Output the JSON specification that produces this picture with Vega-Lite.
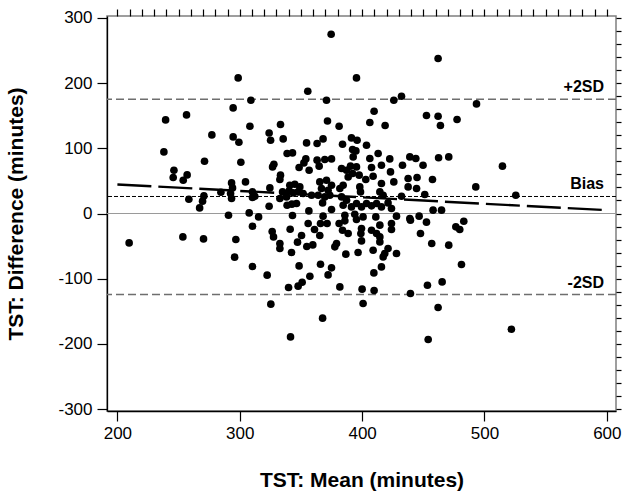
{
 "$schema": "https://vega.github.io/schema/vega-lite/v6.json",
 "width": 509, "height": 395,
 "autosize": {"type": "none"},
 "padding": {"left": 107, "top": 16, "right": 9, "bottom": 86},
 "background": "white",
 "config": {"view": {"stroke": "#7f7f7f", "strokeWidth": 1.5}, "axis": {"grid": false}, "font": "Liberation Sans"},
 "datasets": {
  "pts": [
   {"mean":239.4,"diff":143.6},{"mean":256.5,"diff":151.3},{"mean":277.2,"diff":120.6},{"mean":238.0,"diff":94.5},{"mean":271.2,"diff":80.2},{"mean":246.2,"diff":66.4},{"mean":245.6,"diff":55.2},{"mean":257.0,"diff":59.2},{"mean":253.8,"diff":51.1},{"mean":270.7,"diff":27.0},{"mean":269.6,"diff":18.9},{"mean":258.4,"diff":21.9},{"mean":267.2,"diff":8.6},{"mean":209.6,"diff":-45.1},{"mean":253.5,"diff":-35.9},{"mean":270.4,"diff":-39.0},{"mean":284.6,"diff":32.7},{"mean":290.8,"diff":-2.6},
   {"mean":298.7,"diff":208.0},{"mean":309.1,"diff":173.8},{"mean":294.6,"diff":162.0},{"mean":308.3,"diff":133.9},{"mean":333.3,"diff":136.5},{"mean":324.0,"diff":123.6},{"mean":325.2,"diff":112.4},{"mean":335.5,"diff":114.4},{"mean":354.6,"diff":108.3},{"mean":363.2,"diff":107.4},{"mean":368.1,"diff":114.4},{"mean":294.6,"diff":117.5},{"mean":299.3,"diff":109.4},{"mean":300.9,"diff":78.7},{"mean":338.7,"diff":92.0},{"mean":343.1,"diff":93.0},{"mean":354.0,"diff":83.8},{"mean":352.4,"diff":77.6},{"mean":363.2,"diff":81.8},{"mean":369.5,"diff":82.8},{"mean":375.0,"diff":83.8},{"mean":348.5,"diff":70.6},{"mean":356.7,"diff":66.4},{"mean":364.9,"diff":72.6},{"mean":327.9,"diff":75.6},{"mean":326.8,"diff":71.5},{"mean":333.3,"diff":58.8},{"mean":332.8,"diff":52.2},{"mean":304.7,"diff":48.5},{"mean":293.3,"diff":46.9},{"mean":294.1,"diff":39.3},{"mean":292.5,"diff":30.7},{"mean":324.6,"diff":39.3},{"mean":310.4,"diff":33.1},{"mean":312.3,"diff":26.5},{"mean":310.4,"diff":24.5},{"mean":293.3,"diff":23.0},
   {"mean":340.9,"diff":43.4},{"mean":345.0,"diff":44.9},{"mean":349.1,"diff":40.8},{"mean":340.4,"diff":34.7},{"mean":343.6,"diff":31.6},{"mean":347.7,"diff":33.1},{"mean":351.8,"diff":30.7},{"mean":338.2,"diff":25.5},{"mean":335.0,"diff":33.1},{"mean":332.8,"diff":23.0},
   {"mean":365.4,"diff":48.5},{"mean":370.9,"diff":51.1},{"mean":375.0,"diff":43.4},{"mean":366.8,"diff":38.4},{"mean":372.2,"diff":35.7},{"mean":364.1,"diff":28.1},{"mean":369.5,"diff":25.5},{"mean":373.6,"diff":28.1},{"mean":358.7,"diff":28.1},
   {"mean":355.6,"diff":187.6},{"mean":370.9,"diff":173.8},{"mean":371.7,"diff":142.0},
   {"mean":324.0,"diff":11.2},{"mean":307.7,"diff":0.9},{"mean":315.4,"diff":-5.2},{"mean":310.4,"diff":-19.5},{"mean":296.8,"diff":-39.9},{"mean":295.8,"diff":-67.0},{"mean":310.4,"diff":-81.3},{"mean":322.4,"diff":-94.6},{"mean":325.4,"diff":-139.1},{"mean":326.5,"diff":-27.6},{"mean":327.6,"diff":-35.9},{"mean":332.8,"diff":-46.0},{"mean":332.8,"diff":-53.7},{"mean":342.3,"diff":-59.8},{"mean":341.2,"diff":-24.1},{"mean":343.1,"diff":-3.1},{"mean":356.5,"diff":4.0},{"mean":350.5,"diff":-33.7},{"mean":347.2,"diff":-44.0},{"mean":354.8,"diff":-50.6},{"mean":359.7,"diff":-48.2},{"mean":355.9,"diff":-15.3},{"mean":361.1,"diff":-24.5},{"mean":365.4,"diff":-33.7},{"mean":366.0,"diff":-15.3},{"mean":371.4,"diff":-15.3},{"mean":368.1,"diff":-4.1},{"mean":375.0,"diff":6.1},{"mean":338.7,"diff":12.7},{"mean":342.6,"diff":14.3},{"mean":346.4,"diff":15.3},{"mean":367.7,"diff":16.3},{"mean":348.5,"diff":-80.4},{"mean":366.0,"diff":-77.8},{"mean":375.0,"diff":-83.4},{"mean":372.2,"diff":-94.2},{"mean":357.3,"diff":-96.2},{"mean":351.0,"diff":-105.4},{"mean":347.7,"diff":-111.5},{"mean":339.9,"diff":-113.5},{"mean":367.7,"diff":-160.6},{"mean":341.5,"diff":-189.3},
   {"mean":374.7,"diff":275.0},{"mean":395.4,"diff":208.0},{"mean":425.9,"diff":173.8},{"mean":432.2,"diff":179.9},{"mean":409.8,"diff":156.9},{"mean":381.2,"diff":133.9},{"mean":406.3,"diff":139.6},{"mean":418.8,"diff":135.0},{"mean":391.3,"diff":116.0},{"mean":395.9,"diff":112.4},{"mean":384.0,"diff":106.3},{"mean":403.6,"diff":104.8},{"mean":392.2,"diff":98.2},{"mean":394.9,"diff":96.0},{"mean":392.7,"diff":86.8},{"mean":406.3,"diff":84.4},{"mean":413.1,"diff":92.0},{"mean":422.6,"diff":83.8},{"mean":439.0,"diff":86.8},{"mean":443.9,"diff":84.4},{"mean":383.2,"diff":69.0},{"mean":387.3,"diff":66.4},{"mean":390.5,"diff":72.6},{"mean":392.2,"diff":61.4},{"mean":395.4,"diff":71.5},{"mean":397.6,"diff":58.8},{"mean":388.6,"diff":56.1},{"mean":407.7,"diff":70.6},{"mean":409.0,"diff":57.2},{"mean":403.0,"diff":52.2},{"mean":415.8,"diff":74.1},{"mean":423.2,"diff":63.8},{"mean":433.0,"diff":74.1},{"mean":449.8,"diff":74.1},{"mean":425.9,"diff":48.5},{"mean":437.6,"diff":53.7},{"mean":444.9,"diff":55.2},{"mean":437.6,"diff":40.8},{"mean":444.5,"diff":38.4},{"mean":457.5,"diff":52.2},{"mean":451.2,"diff":29.1},{"mean":398.1,"diff":40.8},{"mean":398.7,"diff":33.1},{"mean":415.8,"diff":46.0},{"mean":414.5,"diff":33.1},{"mean":417.2,"diff":28.1},{"mean":432.2,"diff":26.5},{"mean":384.5,"diff":43.4},{"mean":381.8,"diff":38.4},{"mean":383.2,"diff":25.5},{"mean":387.3,"diff":20.4},{"mean":384.5,"diff":12.7},{"mean":391.3,"diff":10.1},{"mean":395.4,"diff":15.3},{"mean":399.5,"diff":10.1},{"mean":403.6,"diff":15.3},{"mean":407.7,"diff":11.7},{"mean":411.8,"diff":15.3},{"mean":415.8,"diff":10.1},{"mean":421.2,"diff":16.3},{"mean":424.0,"diff":7.7},{"mean":385.9,"diff":-2.6},{"mean":394.0,"diff":-1.1},{"mean":400.8,"diff":-5.2},{"mean":411.2,"diff":-5.2},{"mean":428.1,"diff":-4.1},{"mean":439.0,"diff":-7.7},{"mean":446.6,"diff":-4.1},
   {"mean":381.2,"diff":-15.3},{"mean":385.9,"diff":-11.3},{"mean":384.0,"diff":-25.6},{"mean":388.6,"diff":-30.7},{"mean":379.1,"diff":-46.0},{"mean":377.7,"diff":-51.2},{"mean":386.7,"diff":-62.4},{"mean":396.7,"diff":-59.8},{"mean":399.5,"diff":-23.0},{"mean":399.0,"diff":-30.7},{"mean":399.5,"diff":-42.0},{"mean":395.4,"diff":-9.2},{"mean":407.7,"diff":-25.6},{"mean":411.8,"diff":-30.7},{"mean":414.5,"diff":-35.9},{"mean":414.5,"diff":-43.6},{"mean":409.0,"diff":-56.3},{"mean":414.5,"diff":-17.9},{"mean":424.0,"diff":-15.3},{"mean":424.0,"diff":-24.5},{"mean":421.2,"diff":-53.7},{"mean":418.5,"diff":-61.4},{"mean":417.2,"diff":-66.6},{"mean":428.1,"diff":-61.4},{"mean":415.8,"diff":-81.9},{"mean":409.6,"diff":-91.1},{"mean":381.8,"diff":-112.6},{"mean":400.0,"diff":-116.1},{"mean":409.8,"diff":-118.1},{"mean":400.8,"diff":-138.1},{"mean":439.5,"diff":-122.7},{"mean":453.4,"diff":-110.0},{"mean":465.4,"diff":-104.9},{"mean":462.1,"diff":-144.2},{"mean":454.0,"diff":-193.3},{"mean":439.5,"diff":-10.3},{"mean":452.6,"diff":-13.3},{"mean":447.7,"diff":-30.7},{"mean":456.9,"diff":-46.0},{"mean":470.8,"diff":-48.6},{"mean":476.6,"diff":-20.5},{"mean":479.8,"diff":-24.5},{"mean":483.1,"diff":-11.8},{"mean":481.2,"diff":-78.2},{"mean":522.0,"diff":-177.5},
   {"mean":462.1,"diff":237.8},{"mean":493.5,"diff":168.1},{"mean":477.6,"diff":144.2},{"mean":462.1,"diff":149.2},{"mean":464.0,"diff":135.0},{"mean":452.6,"diff":150.3},{"mean":462.5,"diff":85.5},{"mean":470.8,"diff":86.8},{"mean":514.7,"diff":72.6},{"mean":492.9,"diff":40.8},{"mean":525.6,"diff":28.1},{"mean":464.9,"diff":5.1},{"mean":458.0,"diff":5.1}
  ]
 },
 "resolve": {"axis": {"x": "independent", "y": "independent"}},
 "layer": [
  {
   "data": {"values": [{"diff": 0}]},
   "mark": {"type": "rule", "color": "#9a9a9a", "strokeWidth": 1},
   "encoding": {"y": {"field": "diff", "type": "quantitative", "axis": null, "scale": {"domain": [-303, 303], "nice": false, "zero": false}}}
  },
  {
   "data": {"values": [{"diff": 175.3}, {"diff": -124.3}]},
   "mark": {"type": "rule", "color": "#6e6e6e", "strokeWidth": 1.3, "strokeDash": [8, 4]},
   "encoding": {"y": {"field": "diff", "type": "quantitative", "axis": null, "scale": {"domain": [-303, 303], "nice": false, "zero": false}}}
  },
  {
   "data": {"values": [{"diff": 26.1}]},
   "mark": {"type": "rule", "color": "#000000", "strokeWidth": 1, "strokeDash": [4, 2]},
   "encoding": {"y": {"field": "diff", "type": "quantitative", "axis": null, "scale": {"domain": [-303, 303], "nice": false, "zero": false}}}
  },
  {
   "data": {"values": [{"mean": 200, "diff": 44.5}, {"mean": 600, "diff": 5.1}]},
   "mark": {"type": "line", "color": "#000000", "strokeWidth": 2.4, "strokeDash": [34, 7]},
   "encoding": {
    "x": {"field": "mean", "type": "quantitative", "axis": null, "scale": {"domain": [191.5, 607.5], "nice": false, "zero": false}},
    "y": {"field": "diff", "type": "quantitative", "axis": null, "scale": {"domain": [-303, 303], "nice": false, "zero": false}}
   }
  },
  {
   "data": {"name": "pts"},
   "mark": {"type": "circle", "color": "#000000", "opacity": 1, "size": 58},
   "encoding": {
    "x": {"field": "mean", "type": "quantitative", "scale": {"domain": [191.5, 607.5], "nice": false, "zero": false},
     "axis": {"values": [200, 300, 400, 500, 600], "title": "TST: Mean (minutes)", "tickSize": 10, "tickColor": "#000", "tickWidth": 1.2, "domainColor": "#000", "domainWidth": 1.3, "labelFont": "Liberation Sans", "labelFontSize": 17, "labelColor": "#000", "labelPadding": 4, "titleFont": "Liberation Sans", "titleFontSize": 21, "titleFontWeight": "bold", "titleColor": "#000", "titleY": 69, "titleBaseline": "middle"}},
    "y": {"field": "diff", "type": "quantitative", "scale": {"domain": [-303, 303], "nice": false, "zero": false},
     "axis": {"values": [-300, -200, -100, 0, 100, 200, 300], "labelExpr": "datum.value < 0 ? '-' + abs(datum.value) : '' + datum.value", "title": "TST: Difference (minutes)", "tickSize": 10, "tickColor": "#000", "tickWidth": 1.2, "domainColor": "#000", "domainWidth": 1.3, "labelFont": "Liberation Sans", "labelFontSize": 17, "labelColor": "#000", "labelPadding": 5, "titleFont": "Liberation Sans", "titleFontSize": 21, "titleFontWeight": "bold", "titleColor": "#000", "titleX": -91, "titleBaseline": "middle", "titleAlign": "center"}}
   }
  },
  {
   "data": {"values": [{"mean": 200, "diff": 0}]},
   "mark": {"type": "point", "opacity": 0},
   "encoding": {
    "x": {"field": "mean", "type": "quantitative", "scale": {"domain": [191.5, 607.5], "nice": false, "zero": false},
     "axis": {"values": [200,210,220,230,240,250,260,270,280,290,300,310,320,330,340,350,360,370,380,390,400,410,420,430,440,450,460,470,480,490,500,510,520,530,540,550,560,570,580,590,600], "title": null, "labels": false, "domain": false, "tickSize": 7, "tickColor": "#000", "tickWidth": 1.2}},
    "y": {"field": "diff", "type": "quantitative", "scale": {"domain": [-303, 303], "nice": false, "zero": false},
     "axis": {"values": [-300,-280,-260,-240,-220,-200,-180,-160,-140,-120,-100,-80,-60,-40,-20,0,20,40,60,80,100,120,140,160,180,200,220,240,260,280,300], "title": null, "labels": false, "domain": false, "tickSize": 5, "tickColor": "#000", "tickWidth": 1.2}}
   }
  },
  {
   "data": {"values": [{"mean": 597.7, "diff": 175.3, "lab": "+2SD"}, {"mean": 597.7, "diff": 26.1, "lab": "Bias"}, {"mean": 597.7, "diff": -124.3, "lab": "-2SD"}]},
   "mark": {"type": "text", "align": "right", "baseline": "bottom", "dy": -4, "font": "Liberation Sans", "fontSize": 16, "fontWeight": "bold", "color": "#000"},
   "encoding": {
    "x": {"field": "mean", "type": "quantitative", "axis": null, "scale": {"domain": [191.5, 607.5], "nice": false, "zero": false}},
    "y": {"field": "diff", "type": "quantitative", "axis": null, "scale": {"domain": [-303, 303], "nice": false, "zero": false}},
    "text": {"field": "lab", "type": "nominal"}
   }
  }
 ]
}
